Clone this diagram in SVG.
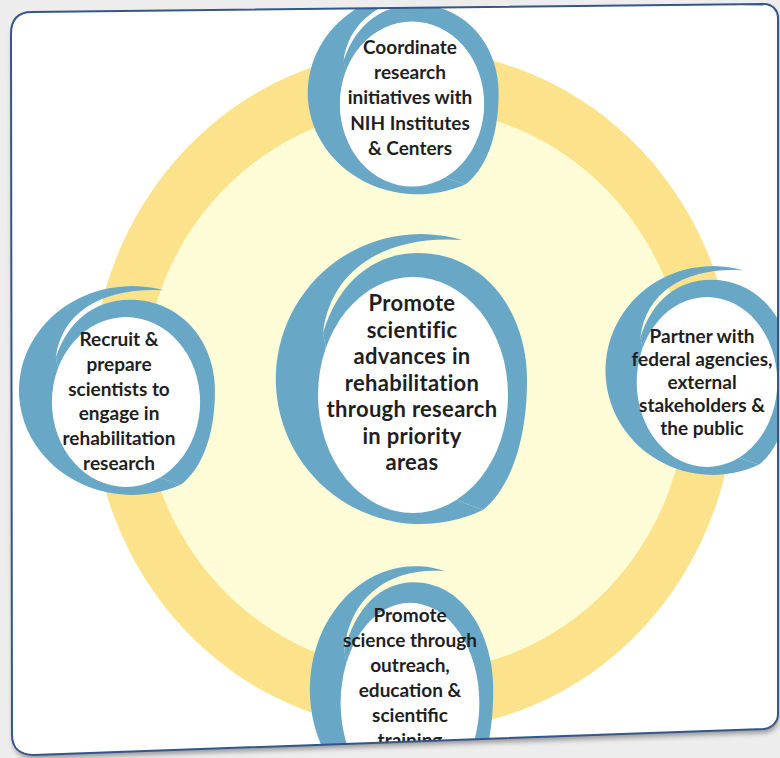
<svg xmlns="http://www.w3.org/2000/svg" xmlns:xlink="http://www.w3.org/1999/xlink" width="780" height="758" viewBox="0 0 780 758">
<style>
.blue{fill:#69a7c7}
.white{fill:#ffffff}
.lbl{font-family:Lato,"Liberation Sans",sans-serif;font-weight:700;font-size:19px;fill:#1f1f1f;text-anchor:middle}
.big{font-size:22px;letter-spacing:0.3px}
</style>
<defs>
<path id="cardShape" d="M11,34 C11,20 18,12 32,12 L764,4 C772,4 778,10 778,18 L778,714 C778,722 772,728 764,729 L34,755 C20,755 12,748 12,735 Z"/>
<clipPath id="cardClip"><use xlink:href="#cardShape"/></clipPath>
<filter id="shadow" x="-5%" y="-5%" width="110%" height="110%"><feGaussianBlur stdDeviation="2.5"/></filter>
<g id="swirl">
<path class="blue" d="M49,-155 A145,145 0 1 0 70,115 L30,100 L-80,-10 L-90,-62 C-82,-128 -25,-160 49,-155 Z"/>
<path class="blue" d="M-90,-62 C-75,-112 -40,-142 5,-142 C70,-142 114,-85 114,-15 C114,50 95,95 70,115 L30,100 L-80,-10 Z"/>
<ellipse class="white" cx="0" cy="0" rx="95" ry="118"/>
</g>
</defs>
<rect x="0" y="0" width="780" height="758" fill="#ededed"/>
<use xlink:href="#cardShape" transform="translate(1,4)" fill="#9a9a9a" filter="url(#shadow)"/>
<use xlink:href="#cardShape" fill="#ffffff"/>
<g clip-path="url(#cardClip)">
<g id="cycle-ring">
<ellipse cx="413" cy="390" rx="322" ry="340" fill="#fce28a"/>
<ellipse cx="415" cy="390" rx="272" ry="282" fill="#fefcd7"/>
</g>
<g id="connectors"></g>
<g id="node-top">
<use xlink:href="#swirl" transform="translate(412,104) scale(0.76,0.70)"/>
<text class="lbl" x="410" y="54">Coordinate</text>
<text class="lbl" x="410" y="79">research</text>
<text class="lbl" x="410" y="104">initiatives with</text>
<text class="lbl" x="410" y="130">NIH Institutes</text>
<text class="lbl" x="410" y="155">&amp; Centers</text>
</g>
<g id="node-left">
<use xlink:href="#swirl" transform="translate(126,402) scale(0.78,0.72)"/>
<text class="lbl" x="119" y="346">Recruit &amp;</text>
<text class="lbl" x="119" y="371">prepare</text>
<text class="lbl" x="119" y="396">scientists to</text>
<text class="lbl" x="119" y="420">engage in</text>
<text class="lbl" x="119" y="445">rehabilitation</text>
<text class="lbl" x="119" y="470">research</text>
</g>
<g id="node-right">
<use xlink:href="#swirl" transform="translate(707,382) scale(0.74,0.72)"/>
<text class="lbl" x="702" y="343">Partner with</text>
<text class="lbl" x="702" y="366">federal agencies,</text>
<text class="lbl" x="702" y="389">external</text>
<text class="lbl" x="702" y="412">stakeholders &amp;</text>
<text class="lbl" x="702" y="435">the public</text>
</g>
<g id="node-bottom">
<use xlink:href="#swirl" transform="translate(410,703) scale(0.73,0.85)"/>
<text class="lbl" x="410" y="622">Promote</text>
<text class="lbl" x="410" y="647">science through</text>
<text class="lbl" x="410" y="672">outreach,</text>
<text class="lbl" x="410" y="697">education &amp;</text>
<text class="lbl" x="410" y="722">scientific</text>
<text class="lbl" x="410" y="747">training</text>
</g>
<g id="node-center">
<use xlink:href="#swirl" transform="translate(413,395)"/>
<text class="lbl big" x="412" y="311">Promote</text>
<text class="lbl big" x="412" y="337.5">scientific</text>
<text class="lbl big" x="412" y="364">advances in</text>
<text class="lbl big" x="412" y="390.5">rehabilitation</text>
<text class="lbl big" x="412" y="417">through research</text>
<text class="lbl big" x="412" y="443.5">in priority</text>
<text class="lbl big" x="412" y="470">areas</text>
</g>
</g>
<use xlink:href="#cardShape" fill="none" stroke="#34568a" stroke-width="2"/>
</svg>
